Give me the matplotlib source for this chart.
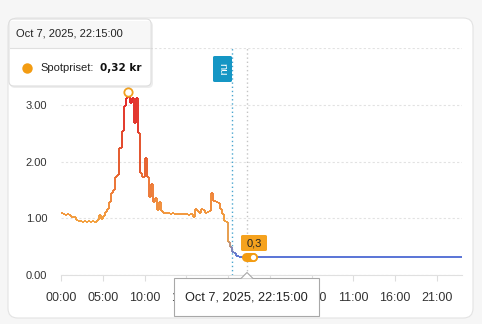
import numpy as np
import matplotlib.pyplot as plt
from matplotlib.collections import LineCollection
from matplotlib.colors import LinearSegmentedColormap, Normalize
from matplotlib.patches import FancyBboxPatch, Rectangle, Polygon
from matplotlib.lines import Line2D

plt.rcParams['font.family'] = ['Liberation Sans', 'DejaVu Sans']

# ------------------------------------------------------------
# data: spot price (kr) per quarter hour, Oct 7 from 00:00
# ------------------------------------------------------------
prices = [
    1.09, 1.08, 1.06, 1.07,   # 00
    1.05, 1.03, 1.02, 0.97,   # 01
    0.95, 0.96, 0.94, 0.95,   # 02
    0.94, 0.96, 0.93, 0.95,   # 03
    0.94, 0.97, 1.06, 0.98,   # 04
    1.04, 1.11, 1.16, 1.28,   # 05
    1.44, 1.50, 1.72, 1.76,   # 06
    2.23, 2.54, 2.98, 3.12,   # 07
    3.22, 3.03, 3.12, 2.67,   # 08
    3.12, 2.50, 1.80, 1.72,   # 09
    2.07, 1.72, 1.37, 1.61,   # 10
    1.28, 1.35, 1.14, 1.28,   # 11
    1.12, 1.10, 1.09, 1.09,   # 12
    1.08, 1.09, 1.08, 1.08,   # 13
    1.07, 1.08, 1.08, 1.07,   # 14
    1.08, 1.06, 1.07, 1.02,   # 15
    1.16, 1.12, 1.09, 1.16,   # 16
    1.15, 1.10, 1.11, 1.12,   # 17
    1.44, 1.30, 1.29, 1.26,   # 18
    1.16, 1.08, 0.96, 0.93,   # 19
    0.58, 0.50, 0.41, 0.38,   # 20
    0.33, 0.32, 0.31, 0.31,   # 21
    0.31, 0.32,               # 22:00, 22:15
]
end_hour = 48
now_hour = 20.45
hover_hour = 22.25
hover_price = 0.32

xtick_labels = ['00:00', '05:00', '10:00', '15:00', '20:00',
                '01:00', '06:00', '11:00', '16:00', '21:00']
ytick_values = [0, 1, 2, 3, 4]
ytick_labels = ['0.00', '1.00', '2.00', '3.00', '4.00']

tooltip_title = 'Oct 7, 2025, 22:15:00'
series_name = 'Spotpriset:'
series_value = '0,32 kr'

# ------------------------------------------------------------
W, H = 482, 324


def fx(x):
    return x / W


def fy(y):
    return 1 - y / H


fig = plt.figure(figsize=(W / 100, H / 100), dpi=100)
fig.patch.set_facecolor('#f6f6f6')

card = FancyBboxPatch((fx(8), fy(318)), fx(473) - fx(8), fy(18) - fy(318),
                      boxstyle='round,pad=0,rounding_size=0.02', mutation_aspect=W / H,
                      transform=fig.transFigure, fc='white', ec='#e3e3e3', lw=0.8, zorder=-1)
fig.patches.append(card)

ax = fig.add_axes([fx(61), fy(275), fx(462) - fx(61), fy(48) - fy(275)])
ax.patch.set_alpha(0)

# step line coloured by price
t = np.arange(len(prices)) * 0.25
t = np.append(t, end_hour)
v = np.append(prices, prices[-1])
segs, vals = [], []
for i in range(len(t) - 1):
    segs.append([(t[i], v[i]), (t[i + 1], v[i])])
    vals.append(v[i])
    if i + 1 < len(t) - 1:
        segs.append([(t[i + 1], v[i]), (t[i + 1], v[i + 1])])
        vals.append((v[i] + v[i + 1]) / 2)

cmap = LinearSegmentedColormap.from_list('price', [
    (0.00, '#5673d8'), (0.05, '#7f86bb'), (0.10, '#dc9c5c'),
    (0.22, '#f3a13f'), (0.40, '#ee7d38'), (0.62, '#e3552c'), (1.00, '#e3252a')])
norm = Normalize(0.3, 3.2)
lc = LineCollection(segs, colors=cmap(norm(vals)), linewidths=1.4, capstyle='butt', zorder=3)
ax.add_collection(lc)

# peak marker
ip = int(np.argmax(prices))
ax.plot(t[ip], prices[ip], 'o', ms=6, mfc='white', mec='#f0a020', mew=1.3, zorder=4)

# hover point
ax.plot([hover_hour - 0.15, hover_hour + 0.7], [hover_price, hover_price], color='#f39c12',
        lw=6.5, solid_capstyle='round', zorder=4)
ax.plot(hover_hour + 0.7, hover_price, 'o', ms=5, mfc='white', mec='#f39c12', mew=1.2, zorder=5)

# reference lines
ax.axvline(now_hour, color='#4aa6cf', lw=1, ls=(0, (1, 2)), zorder=2)
ax.axvline(hover_hour, color='#c4c4c4', lw=1, ls=(0, (1, 2)), zorder=2)

ax.set_xlim(0, end_hour)
ax.set_ylim(0, 4)
ax.set_xticks(np.arange(0, end_hour, 5))
ax.set_xticklabels(xtick_labels, fontsize=9, color='#333333')
ax.set_yticks(ytick_values)
ax.set_yticklabels(ytick_labels, fontsize=8, color='#333333')
ax.tick_params(axis='x', length=4, color='#dddddd', pad=8)
ax.tick_params(axis='y', length=0, pad=10)
for s in ['top', 'right', 'left']:
    ax.spines[s].set_visible(False)
ax.spines['bottom'].set_color('#e0e0e0')
ax.grid(axis='y', color='#e2e2e2', lw=0.8, ls=(0, (2, 2)))
ax.grid(axis='x', visible=False)
ax.set_axisbelow(True)

# "nu" label
fig.patches.append(FancyBboxPatch((fx(213), fy(82)), fx(232) - fx(213), fy(56) - fy(82),
                                  boxstyle='round,pad=0,rounding_size=0.004', transform=fig.transFigure,
                                  fc='#1596c4', ec='none', zorder=6))
fig.text(fx(222.5), fy(69), 'nu', rotation=-90, color='white', fontsize=8,
         ha='center', va='center', zorder=7)

# "0,3" label
fig.patches.append(FancyBboxPatch((fx(241), fy(251)), fx(267) - fx(241), fy(235) - fy(251),
                                  boxstyle='round,pad=0,rounding_size=0.004', transform=fig.transFigure,
                                  fc='#f5a21e', ec='none', zorder=6))
fig.text(fx(254), fy(243), '0,3', color='#222222', fontsize=8, ha='center', va='center', zorder=7)

# top-left tooltip
fig.patches.append(FancyBboxPatch((fx(10), fy(88)), fx(153) - fx(10), fy(21) - fy(88),
                                  boxstyle='round,pad=0,rounding_size=0.01', mutation_aspect=W / H,
                                  transform=fig.transFigure, fc='#00000012', ec='none', zorder=5))
fig.patches.append(FancyBboxPatch((fx(9), fy(86)), fx(151) - fx(9), fy(19) - fy(86),
                                  boxstyle='round,pad=0,rounding_size=0.01', mutation_aspect=W / H,
                                  transform=fig.transFigure, fc='white', ec='#dddddd', lw=0.8, zorder=5))
fig.patches.append(Rectangle((fx(10), fy(48)), fx(150) - fx(10), fy(21) - fy(48),
                             transform=fig.transFigure, fc='#f7f7f7', ec='none', zorder=5.5))
fig.add_artist(Line2D([fx(10), fx(150)], [fy(48), fy(48)], color='#e0e0e0', lw=0.8, zorder=6))
fig.text(fx(16), fy(34), tooltip_title, fontsize=8, color='#222222', va='center', zorder=7)
fig.add_artist(Line2D([fx(27)], [fy(68)], marker='o', ms=7.5, mfc='#f39c12', mec='none',
                      transform=fig.transFigure, zorder=7))
fig.text(fx(40), fy(68), series_name, fontsize=8, color='#222222', va='center', zorder=7)
fig.text(fx(100), fy(68), series_value, fontsize=7.5, color='#111111', va='center',
         fontweight='bold', family='DejaVu Sans', zorder=7)

# bottom tooltip
fig.patches.append(Rectangle((fx(174), fy(316)), fx(319) - fx(174), fy(278) - fy(316),
                             transform=fig.transFigure, fc='white', ec='#a8a8a8', lw=0.8, zorder=6))
fig.add_artist(Polygon([(fx(241), fy(278.5)), (fx(247), fy(272.5)), (fx(253), fy(278.5))],
                       closed=False, transform=fig.transFigure, fc='white', ec='#a8a8a8', lw=0.8, zorder=6.5))
fig.text(fx(246.5), fy(297), tooltip_title, fontsize=9.2, color='#222222',
         ha='center', va='center', zorder=7)

fig.savefig('out.png', dpi=100)
